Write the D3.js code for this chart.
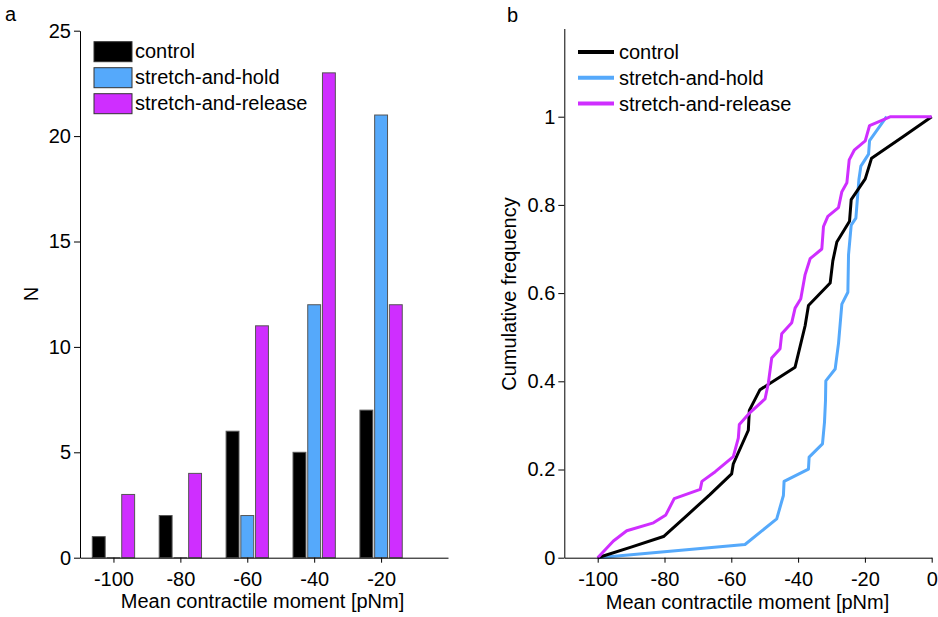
<!DOCTYPE html>
<html>
<head>
<meta charset="utf-8">
<script src="https://cdn.jsdelivr.net/npm/d3@7"></script>
<style>
  body { margin: 0; background: #fff; }
  svg text { font-family: "Liberation Sans", Arial, sans-serif; fill: #000; }
</style>
</head>
<body>
<svg id="chart" width="938" height="617"></svg>
<script>
// Histogram bins and counts (panel a)
var binCenters = [-100, -80, -60, -40, -20]
var seriesNames = ['control', 'stretch-and-hold', 'stretch-and-release']
var controlCounts = [1, 2, 6, 5, 7]
var holdCounts = [0, 0, 2, 12, 21]
var releaseCounts = [3, 4, 11, 23, 12]
var countTicks = [0, 5, 10, 15, 20, 25]

// Cumulative frequency curves (panel b), [moment, frequency]
var controlCdf = [[-100, 0], [-90, 0.024], [-80.3, 0.048], [-73.4, 0.095], [-66.4, 0.143], [-59.9, 0.19],
  [-59.4, 0.213], [-54.9, 0.289], [-54.6, 0.334], [-51.4, 0.381], [-40.9, 0.432], [-37.9, 0.526],
  [-36.9, 0.572], [-30.4, 0.623], [-29.6, 0.673], [-28.4, 0.716], [-24.6, 0.763], [-24.1, 0.812],
  [-19.9, 0.859], [-18.0, 0.906], [-8.5, 0.955], [0, 1]]
var holdCdf = [[-100, 0], [-55.9, 0.030], [-46.4, 0.088], [-44.4, 0.141], [-44.2, 0.173], [-36.9, 0.201],
  [-36.7, 0.228], [-32.7, 0.258], [-32.1, 0.307], [-31.8, 0.356], [-31.7, 0.401], [-28.9, 0.428],
  [-27.9, 0.486], [-26.9, 0.575], [-25.1, 0.602], [-24.9, 0.687], [-24.1, 0.754], [-22.7, 0.770],
  [-21.8, 0.857], [-21.2, 0.888], [-18.9, 0.915], [-18.6, 0.946], [-13.5, 1.0]]
var releaseCdf = [[-100, 0], [-95.3, 0.038], [-91.3, 0.061], [-83.3, 0.079], [-79.6, 0.097], [-77.1, 0.134],
  [-69.3, 0.155], [-68.8, 0.173], [-64.8, 0.195], [-59.4, 0.229], [-57.9, 0.271], [-57.6, 0.302],
  [-54.4, 0.329], [-49.9, 0.360], [-48.9, 0.396], [-47.9, 0.453], [-45.4, 0.474], [-44.9, 0.508],
  [-41.9, 0.533], [-40.9, 0.566], [-39.2, 0.587], [-37.9, 0.642], [-36.4, 0.678], [-32.9, 0.700],
  [-32.4, 0.751], [-31.1, 0.774], [-27.9, 0.794], [-26.9, 0.830], [-25.4, 0.850], [-24.7, 0.902],
  [-23.2, 0.924], [-19.9, 0.945], [-18.6, 0.980], [-12.3, 1.0], [0, 1]]
var momentTicksB = [-100, -80, -60, -40, -20, 0]
var freqTicks = [0, 0.2, 0.4, 0.6, 0.8, 1]

var colors = ['#000000', '#55a9fb', '#cf2eff']
var fontSize = 20

var svg = d3.select('#chart')

// Shared axis styling
var styleAxis = function (g) {
    g.attr('font-size', fontSize).attr('font-family', '"Liberation Sans", Arial, sans-serif')
    g.select('.domain').attr('stroke', '#000')
    g.selectAll('.tick line').attr('stroke', '#000')
    g.selectAll('.tick text').attr('fill', '#000')
}

// ---------- Panel a: histogram ----------
var xA = d3.scaleLinear().domain([-110, 0]).range([80, 448])
var yA = d3.scaleLinear().domain([0, 25]).range([557.7, 30.7])
var barOffset = 4.4, barWidth = 3.85

var gA = svg.append('g')

var counts = [controlCounts, holdCounts, releaseCounts]
counts.forEach(function (series, s) {
    gA.selectAll('.bar' + s)
        .data(series)
        .enter()
        .append('rect')
        .attr('x', function (d, i) { return xA(binCenters[i] + (s - 1) * barOffset - barWidth / 2) })
        .attr('width', xA(barWidth) - xA(0))
        .attr('y', function (d) { return yA(d) })
        // empty bins still show their outline on the baseline
        .attr('height', function (d) { return Math.max(yA(0) - yA(d), 0.01) })
        .attr('fill', colors[s])
        .attr('stroke', '#555')
        .attr('stroke-width', 1)
})

gA.append('g')
    .attr('transform', 'translate(0,' + yA(0) + ')')
    .call(d3.axisBottom(xA).tickValues(binCenters).tickSize(5).tickPadding(9)
        .tickSizeOuter(0).tickFormat(function (d) { return String(d) }))
    .call(styleAxis)

gA.append('g')
    .attr('transform', 'translate(' + xA(-110) + ',0)')
    .call(d3.axisLeft(yA).tickValues(countTicks).tickSize(6).tickPadding(3)
        .tickSizeOuter(0).tickFormat(function (d) { return String(d) }))
    .call(styleAxis)

gA.append('text')
    .attr('x', 262.5).attr('y', 608)
    .attr('text-anchor', 'middle').attr('font-size', fontSize)
    .text('Mean contractile moment [pNm]')

gA.append('text')
    .attr('transform', 'translate(38,294) rotate(-90)')
    .attr('text-anchor', 'middle').attr('font-size', fontSize)
    .text('N')

gA.append('text').attr('x', 5).attr('y', 20.5).attr('font-size', fontSize).text('a')

// Legend a
var legendA = gA.selectAll('.legendA')
    .data(seriesNames)
    .enter()
    .append('g')
    .attr('transform', function (d, i) { return 'translate(94,' + (41.7 + i * 26) + ')' })
legendA.append('rect')
    .attr('width', 38).attr('height', 20)
    .attr('fill', function (d, i) { return colors[i] })
    .attr('stroke', '#333')
legendA.append('text')
    .attr('x', 41).attr('y', 16.6).attr('font-size', fontSize)
    .text(function (d) { return d })

// ---------- Panel b: cumulative frequency ----------
var xB = d3.scaleLinear().domain([-110, 0]).range([564.3, 931.7])
var yB = d3.scaleLinear().domain([0, 1.2]).range([557.7, 28.5])

var gB = svg.append('g')

var line = d3.line()
    .x(function (d) { return xB(d[0]) })
    .y(function (d) { return yB(d[1]) })

var curves = [controlCdf, holdCdf, releaseCdf]
// blue first, then black, magenta on top like the reference
;[1, 0, 2].forEach(function (s) {
    gB.append('path')
        .datum(curves[s])
        .attr('d', line)
        .attr('fill', 'none')
        .attr('stroke', colors[s])
        .attr('stroke-width', 3)
        .attr('stroke-linejoin', 'round')
})

gB.append('g')
    .attr('transform', 'translate(0,' + yB(0) + ')')
    .call(d3.axisBottom(xB).tickValues(momentTicksB).tickSize(5).tickPadding(9)
        .tickSizeOuter(0).tickFormat(function (d) { return String(d) }))
    .call(styleAxis)

gB.append('g')
    .attr('transform', 'translate(' + xB(-110) + ',0)')
    .call(d3.axisLeft(yB).tickValues(freqTicks).tickSize(6).tickPadding(3)
        .tickSizeOuter(0).tickFormat(function (d) { return String(d) }))
    .call(styleAxis)

gB.append('text')
    .attr('x', 747.5).attr('y', 609)
    .attr('text-anchor', 'middle').attr('font-size', fontSize)
    .text('Mean contractile moment [pNm]')

gB.append('text')
    .attr('transform', 'translate(516,294) rotate(-90)')
    .attr('text-anchor', 'middle').attr('font-size', fontSize)
    .text('Cumulative frequency')

gB.append('text').attr('x', 507).attr('y', 22).attr('font-size', fontSize).text('b')

// Legend b
var legendB = gB.selectAll('.legendB')
    .data(seriesNames)
    .enter()
    .append('g')
    .attr('transform', function (d, i) { return 'translate(578,' + (52.1 + i * 25.7) + ')' })
legendB.append('line')
    .attr('x1', 0).attr('x2', 36)
    .attr('stroke', function (d, i) { return colors[i] })
    .attr('stroke-width', 4)
legendB.append('text')
    .attr('x', 41).attr('y', 7).attr('font-size', fontSize)
    .text(function (d) { return d })
</script>
</body>
</html>
